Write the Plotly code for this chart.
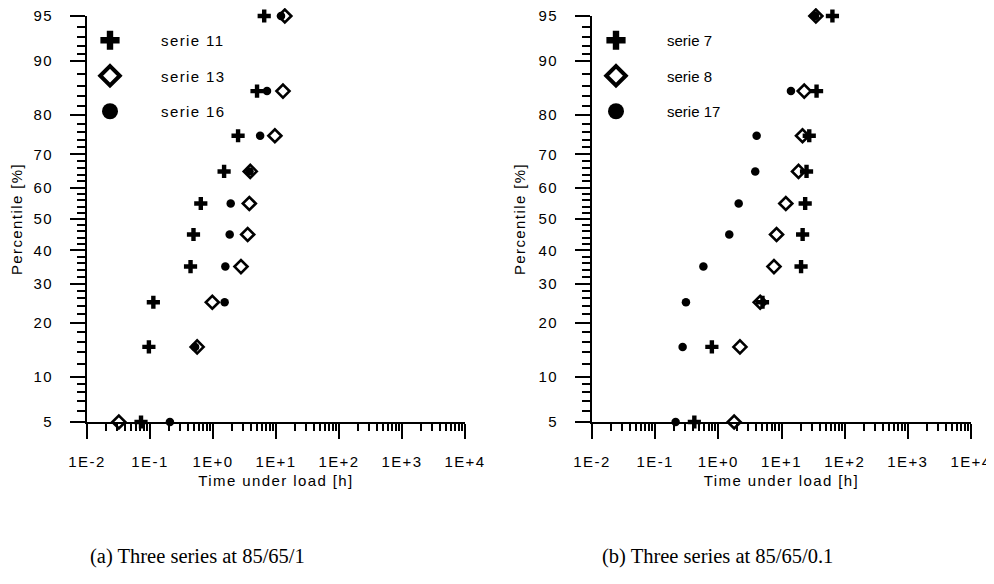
import plotly.graph_objects as go
from statistics import NormalDist

# ---------------- data ----------------
percentiles = [5, 15, 25, 35, 45, 55, 65, 75, 85, 95]

# panel (a) 85/65/1
serie11 = [0.072, 0.096, 0.113, 0.44, 0.49, 0.64, 1.5, 2.5, 5.0, 6.5]
serie13 = [0.032, 0.56, 0.975, 2.78, 3.55, 3.77, 3.9, 9.6, 12.9, 13.8]
serie16 = [0.207, 0.52, 1.53, 1.57, 1.84, 1.91, 3.8, 5.6, 7.2, 12.0]

# panel (b) 85/65/0.1
serie7 = [0.417, 0.79, 5.0, 20.4, 21.6, 23.7, 24.9, 27.5, 35.9, 64.0]
serie8 = [1.78, 2.2, 4.6, 7.6, 8.35, 11.7, 18.6, 21.5, 22.9, 35.0]
serie17 = [0.211, 0.272, 0.307, 0.58, 1.49, 2.1, 3.84, 4.04, 14.1, 34.0]

ytick_labels = [5, 10, 20, 30, 40, 50, 60, 70, 80, 90, 95]
yminor_labels = [6, 7, 8, 9] + list(range(12, 90, 2)) + [91, 92, 93, 94]
xtick_vals = [1e-2, 1e-1, 1e0, 1e1, 1e2, 1e3, 1e4]
xtick_text = ["1E-2", "1E-1", "1E+0", "1E+1", "1E+2", "1E+3", "1E+4"]
captions = ["(a) Three series at 85/65/1", "(b) Three series at 85/65/0.1"]

# ---------------- helpers ----------------
nd = NormalDist()


def zq(p):
    return nd.inv_cdf(p / 100.0)


yz = [zq(p) for p in percentiles]
xminor = [k * 10 ** e for e in range(-2, 4) for k in range(2, 10)]

SANS = "Liberation Sans, Arial, sans-serif"
OFF = 8                      # page body margin
W, H = 994 - OFF, 584 - OFF
EPS = 1e-4


def px(p):
    return (p - OFF) / W


def py(p):
    return 1 - (p - OFF) / H


fig = go.Figure()

styles = {
    "plus": dict(symbol="cross", size=11, color="black", line=dict(width=0)),
    "diamond": dict(symbol="diamond-open", size=10, color="black",
                    line=dict(width=2.6, color="black")),
    "circle": dict(symbol="circle", size=8.5, color="black", line=dict(width=0)),
}
legend_styles = {
    "plus": dict(symbol="cross", size=16, color="black", line=dict(width=0)),
    "diamond": dict(symbol="diamond-open", size=15, color="black",
                    line=dict(width=4, color="black")),
    "circle": dict(symbol="circle", size=16, color="black", line=dict(width=0)),
}

panels = [
    ("x", "y", "legend", [("serie 11", serie11, "plus"),
                          ("serie 13", serie13, "diamond"),
                          ("serie 16", serie16, "circle")]),
    ("x2", "y2", "legend2", [("serie 7", serie7, "plus"),
                             ("serie 8", serie8, "diamond"),
                             ("serie 17", serie17, "circle")]),
]

for xa, ya, lg, series in panels:
    # draw order: diamond, circle, plus
    for name, vals, kind in [series[1], series[2], series[0]]:
        fig.add_trace(go.Scatter(
            x=vals, y=yz, mode="markers", name=name, xaxis=xa, yaxis=ya,
            marker=styles[kind], cliponaxis=False, showlegend=False,
            hoverinfo="x+name"))
    for rank, (name, vals, kind) in enumerate(series):
        fig.add_trace(go.Scatter(
            x=[None], y=[None], mode="markers", name=name, xaxis=xa, yaxis=ya,
            marker=legend_styles[kind], showlegend=True, legend=lg,
            legendgroup=lg + name, legendrank=rank + 1))

xdomains = [[px(87), px(465)], [px(592), px(971)]]
ydomain = [py(422), py(16)]

axis_common = dict(
    showgrid=False, zeroline=False, showline=True, linecolor="black",
    linewidth=2, ticks="outside", tickcolor="black", tickwidth=2, ticklen=15,
    tickfont=dict(family=SANS, size=15, color="black"), automargin=False,
    ticklabeloverflow="allow",
)

for i, (xa, ya) in enumerate([("xaxis", "yaxis"), ("xaxis2", "yaxis2")]):
    fig.update_layout({
        xa: dict(
            axis_common, type="log", range=[-2 - EPS, 4 + EPS],
            domain=xdomains[i], anchor="y" if i == 0 else "y2",
            tickmode="array", tickvals=xtick_vals, ticktext=xtick_text,
            ticklabelstandoff=10,
            minor=dict(tickmode="array", tickvals=xminor, ticks="outside",
                       ticklen=7, tickwidth=2, tickcolor="black", showgrid=False),
            title=dict(text="Time under load [h]", standoff=6,
                       font=dict(family=SANS, size=15, color="black")),
        ),
        ya: dict(
            axis_common, range=[zq(5) - EPS, zq(95) + EPS], domain=ydomain,
            anchor="x" if i == 0 else "x2",
            tickmode="array", tickvals=[zq(p) for p in ytick_labels],
            ticktext=[str(p) for p in ytick_labels],
            ticklabelstandoff=14,
            minor=dict(tickmode="array", tickvals=[zq(p) for p in yminor_labels],
                       ticks="outside", ticklen=8, tickwidth=2,
                       tickcolor="black", showgrid=False),
            title=dict(text="Percentile [%]", standoff=12,
                       font=dict(family=SANS, size=15, color="black")),
        ),
    })

leg_common = dict(
    xanchor="left", yanchor="top", bgcolor="rgba(0,0,0,0)", borderwidth=0,
    itemsizing="trace", itemwidth=92, tracegroupgap=13,
    font=dict(family=SANS, size=15, color="black"), orientation="v",
    itemclick=False, itemdoubleclick=False,
)
fig.update_layout(
    legend=dict(leg_common, x=px(110 - 51), y=py(24)),
    legend2=dict(leg_common, x=px(616 - 51), y=py(24)),
)

for i, cap in enumerate(captions):
    fig.add_annotation(
        text=cap, xref="paper", yref="paper", x=px([88, 600][i]),
        y=py(556), xanchor="left", yanchor="middle", showarrow=False,
        font=dict(family="Liberation Serif, Times New Roman, serif", size=20.5,
                  color="black"))

fig.update_layout(
    width=W, height=H, margin=dict(l=0, r=0, t=0, b=0),
    paper_bgcolor="white", plot_bgcolor="white",
    font=dict(family=SANS, color="black"),
)

# the original typesetting uses slightly spaced-out sans-serif lettering
SPACING_JS = """
var gd = document.getElementById('{plot_id}');
function spaceOut() {
  gd.querySelectorAll('.xtick text, .x2tick text, .ytick text, .y2tick text, '
    + '.legendtext, .xtitle, .x2title, .ytitle, .y2title').forEach(function (t) {
      t.style.letterSpacing = '1.4px';
  });
  gd.querySelectorAll('.legend .scrollbox, .legend2 .scrollbox, .legend, .legend2')
    .forEach(function (g) { g.removeAttribute('clip-path'); g.style.clipPath = 'none'; });
}
spaceOut();
gd.on('plotly_afterplot', spaceOut);
"""

fig.write_html("out.html", post_script=SPACING_JS)
